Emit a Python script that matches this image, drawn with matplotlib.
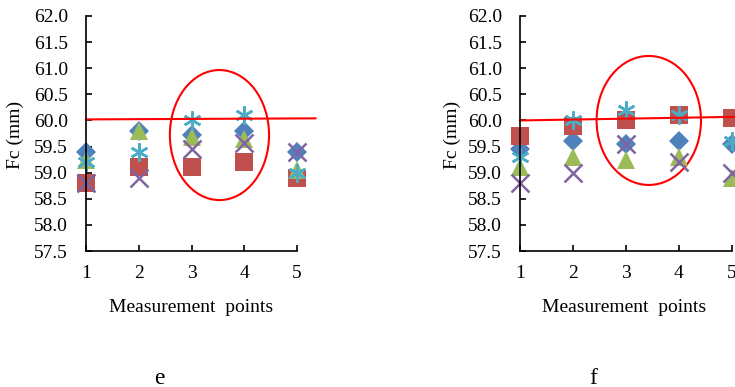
import matplotlib
matplotlib.use("Agg")
import matplotlib.pyplot as plt
from matplotlib.patches import Ellipse

plt.rcParams["font.family"] = ["Liberation Serif", "DejaVu Serif"]

# -------------------------------
# DATA
# -------------------------------
points = [1, 2, 3, 4, 5]
y_ticks = [57.5, 58.0, 58.5, 59.0, 59.5, 60.0, 60.5, 61.0, 61.5, 62.0]

# panel e
e_blue = [59.4, 59.8, 59.72, 59.8, 59.4]
e_red = [58.8, 59.1, 59.1, 59.2, 58.9]
e_green = [59.25, 59.8, 59.68, 59.65, 59.05]
e_purple = [58.8, 58.9, 59.45, 59.57, 59.4]
e_cyan = [59.2, 59.4, 60.0, 60.1, 59.0]
e_ref_x = [1, 5.35]
e_ref_y = [60.02, 60.04]

# panel f
f_blue = [59.45, 59.6, 59.55, 59.6, 59.55]
f_red = [59.7, 59.9, 60.0, 60.1, 60.05]
f_green = [59.1, 59.3, 59.25, 59.3, 58.9]
f_purple = [58.8, 59.0, 59.55, 59.2, 59.0]
f_cyan = [59.3, 60.0, 60.2, 60.1, 59.6]
f_ref_x = [1, 5.1]
f_ref_y = [60.0, 60.07]

# -------------------------------
# STYLE
# -------------------------------
SERIES_STYLE = [
    dict(marker="D", color="#4F81BD", ms=10, mew=0),
    dict(marker="s", color="#C0504D", ms=12.5, mew=0),
    dict(marker="^", color="#9BBB59", ms=13, mew=0),
    dict(marker="x", color="#8064A2", ms=12.5, mew=1.8),
    dict(marker=(6, 2, 0), color="#4BACC6", ms=13, mew=1.8),
]

W, H = 735, 387
fig = plt.figure(figsize=(W / 100, H / 100), dpi=100)


def px_axes(x0, x1, y0, y1):
    return fig.add_axes([x0 / W, 1 - y1 / H, (x1 - x0) / W, (y1 - y0) / H])


def draw_panel(ax, series, ref_x, ref_y, ell):
    for vals, st in zip(series, SERIES_STYLE):
        ax.plot(points, vals, linestyle="none", clip_on=False, **st)
    ax.plot(ref_x, ref_y, color="#FF0000", lw=1.5, clip_on=False)
    ax.add_patch(Ellipse(ell[:2], ell[2], ell[3], fill=False,
                         edgecolor="#FF0000", lw=1.5, clip_on=False))
    ax.set_xlim(1, 5)
    ax.set_ylim(57.5, 62.0)
    ax.set_xticks(points)
    ax.set_yticks(y_ticks)
    ax.set_yticklabels([f"{v:.1f}" for v in y_ticks])
    for s in ["top", "right"]:
        ax.spines[s].set_visible(False)
    for s in ["left", "bottom"]:
        ax.spines[s].set_linewidth(1.2)
    ax.tick_params(direction="in", length=4, width=1.2, labelsize=14)
    ax.tick_params(axis="y", pad=13)
    ax.tick_params(axis="x", pad=10)


ax_e = px_axes(86, 297, 16, 251)
draw_panel(ax_e, [e_blue, e_red, e_green, e_purple, e_cyan],
           e_ref_x, e_ref_y, (3.53, 59.72, 1.88, 2.49))

ax_f = px_axes(520, 732, 16, 251)
draw_panel(ax_f, [f_blue, f_red, f_green, f_purple, f_cyan],
           f_ref_x, f_ref_y, (3.43, 60.0, 1.97, 2.47))

# labels
for x_lab, x_mid, letter, x_let in [(15, 191, "e", 159), (452, 624, "f", 593)]:
    fig.text(x_lab / W, 1 - 135 / H, "Fc (mm)", rotation=90,
             ha="center", va="center", fontsize=14)
    fig.text(x_mid / W, 1 - 308 / H, "Measurement  points",
             ha="center", va="center", fontsize=14)
    fig.text(x_let / W, 1 - 378 / H, letter,
             ha="center", va="center", fontsize=17)

fig.savefig("out.png", dpi=100)
